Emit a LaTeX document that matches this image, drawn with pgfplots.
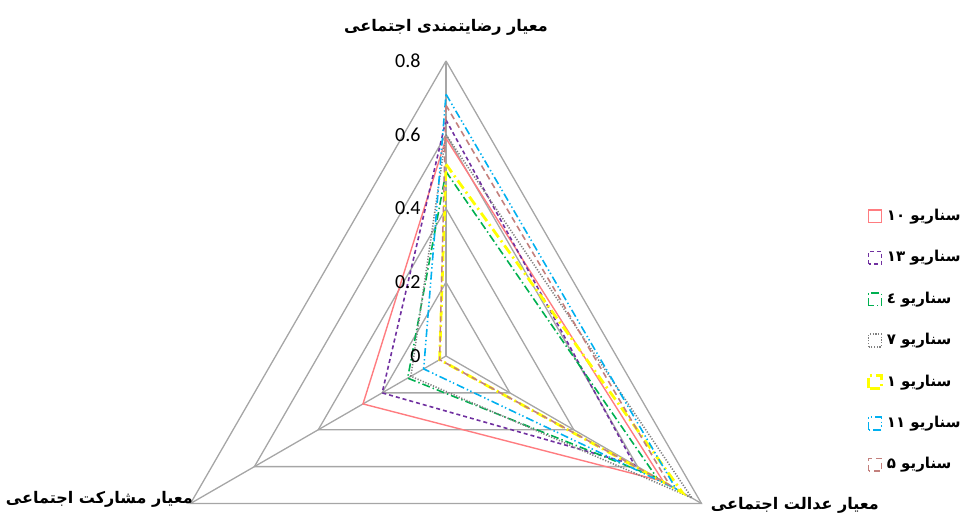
\documentclass[border=0pt]{standalone}
\usepackage{fontspec}
\setmainfont{Carlito}
\newfontfamily\arabicfont[Script=Arabic]{DejaVu Sans}
\TeXXeTstate=1
\usepackage{pgfplots}
\pgfplotsset{compat=1.18}

\definecolor{gridgray}{HTML}{A6A6A6}
\definecolor{sRed}{HTML}{FF7C80}
\definecolor{sPurple}{HTML}{7030A0}
\definecolor{sGreen}{HTML}{00B050}
\definecolor{sGray}{HTML}{808080}
\definecolor{sYellow}{HTML}{FFFF00}
\definecolor{sBlue}{HTML}{00B0F0}
\definecolor{sBrown}{HTML}{C3807D}

\begin{document}
\begin{tikzpicture}
\begin{axis}[
    scale only axis,
    width=480pt, height=258pt,
    xmin=-1.2095, xmax=1.3939,
    ymin=-0.4339, ymax=0.9654,
    hide axis,
    clip=false,
    data cs=polar,
    legend style={at={(axis cs:1.125,0.421)}, anchor=north west,
        draw=none, fill=none, row sep=9.5pt,
        font=\arabicfont\bfseries\fontsize{7.5}{9}\selectfont},
    legend cell align=left,
    legend image code/.code={\draw[#1] (0pt,-3.2pt) rectangle (6.4pt,3.2pt);},
]
% grid rings and spokes
\addplot[gridgray, line width=0.65pt, forget plot] coordinates {(90,0.2) (210,0.2) (-30,0.2) (90,0.2)};
\addplot[gridgray, line width=0.65pt, forget plot] coordinates {(90,0.4) (210,0.4) (-30,0.4) (90,0.4)};
\addplot[gridgray, line width=0.65pt, forget plot] coordinates {(90,0.6) (210,0.6) (-30,0.6) (90,0.6)};
\addplot[gridgray, line width=0.65pt, forget plot] coordinates {(90,0.8) (210,0.8) (-30,0.8) (90,0.8)};
\addplot[gridgray, line width=0.65pt, forget plot] coordinates {(0,0) (90,0.8)};
\addplot[gridgray, line width=0.65pt, forget plot] coordinates {(0,0) (210,0.8)};
\addplot[gridgray, line width=0.65pt, forget plot] coordinates {(0,0) (-30,0.8)};

% scenarios: (angle, value) -- top, right, left
\addplot[sRed, line width=0.7pt] coordinates {(90,0.59) (-30,0.68) (210,0.26) (90,0.59)};
\addlegendentry{\beginR سناریو ۱۰\endR}
\addplot[sPurple, line width=0.8pt, dash pattern=on 2pt off 1.5pt] coordinates {(90,0.64) (-30,0.59) (210,0.20) (90,0.64)};
\addlegendentry{\beginR سناریو ۱۳\endR}
\addplot[sGreen, line width=0.8pt, dash pattern=on 4pt off 1.5pt on 0.7pt off 1.5pt] coordinates {(90,0.50) (-30,0.66) (210,0.12) (90,0.50)};
\addlegendentry{\beginR سناریو ٤\endR}
\addplot[sGray, line width=0.8pt, dash pattern=on 0.6pt off 0.8pt] coordinates {(90,0.60) (-30,0.77) (210,0.11) (90,0.60)};
\addlegendentry{\beginR سناریو ۷\endR}
\addplot[sYellow, line width=1.4pt, dash pattern=on 5pt off 2pt on 1pt off 2pt] coordinates {(90,0.52) (-30,0.74) (210,0.02) (90,0.52)};
\addlegendentry{\beginR سناریو ۱\endR}
\addplot[sBlue, line width=0.8pt, dash pattern=on 4pt off 1.5pt on 0.7pt off 1.2pt on 0.7pt off 1.5pt] coordinates {(90,0.71) (-30,0.72) (210,0.07) (90,0.71)};
\addlegendentry{\beginR سناریو ۱۱\endR}
\addplot[sBrown, line width=0.8pt, dash pattern=on 3pt off 2pt] coordinates {(90,0.68) (-30,0.70) (210,0.02) (90,0.68)};
\addlegendentry{\beginR سناریو ۵\endR}

% radial tick labels
\node[anchor=east, font=\fontsize{10}{12}\selectfont] at (axis cs:-0.05,0.8) {0.8};
\node[anchor=east, font=\fontsize{10}{12}\selectfont] at (axis cs:-0.05,0.6) {0.6};
\node[anchor=east, font=\fontsize{10}{12}\selectfont] at (axis cs:-0.05,0.4) {0.4};
\node[anchor=east, font=\fontsize{10}{12}\selectfont] at (axis cs:-0.05,0.2) {0.2};
\node[anchor=east, font=\fontsize{10}{12}\selectfont] at (axis cs:-0.05,0.0) {0};

% axis titles
\node[font=\arabicfont\bfseries\fontsize{8}{10}\selectfont] at (axis cs:0,0.892) {\beginR معیار رضایتمندی اجتماعی\endR};
\node[font=\arabicfont\bfseries\fontsize{8}{10}\selectfont] at (axis cs:-0.94,-0.39) {\beginR معیار مشارکت اجتماعی\endR};
\node[font=\arabicfont\bfseries\fontsize{8}{10}\selectfont] at (axis cs:0.946,-0.404) {\beginR معیار عدالت اجتماعی\endR};
\end{axis}
\pgfresetboundingbox
\path[use as bounding box] (current axis.south west) rectangle (current axis.north east);
\end{tikzpicture}
\end{document}
